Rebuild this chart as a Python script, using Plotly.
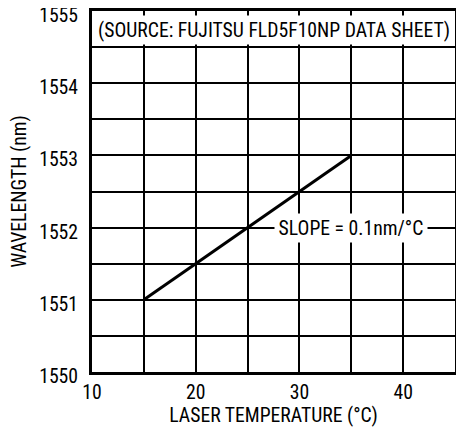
import plotly.graph_objects as go

# laser temperature (°C) vs wavelength (nm)
temp_c = [15, 35]
wavelength_nm = [1551, 1553]

x_ticks = [10, 20, 30, 40]
y_ticks = [1550, 1551, 1552, 1553, 1554, 1555]

FONT = "Liberation Sans Narrow, Roboto Condensed, Liberation Sans, Arial"

# the page body has an 8px margin on top/left, so shrink the figure to fit
BODY = 8

fig = go.Figure()
fig.add_trace(go.Scatter(
    x=temp_c, y=wavelength_nm, mode="lines",
    line=dict(color="black", width=3),
    showlegend=False, hoverinfo="skip",
))

fig.add_annotation(
    x=0.5, y=1, xref="paper", yref="paper", xanchor="center", yanchor="top",
    text="(SOURCE: FUJITSU FLD5F10NP DATA SHEET)", showarrow=False,
    font=dict(family=FONT, size=19.7, color="black"),
    bgcolor="white", width=356, height=26, yshift=-4,
)
fig.add_annotation(
    x=35, y=1552, xanchor="center", yanchor="middle",
    text="SLOPE = 0.1nm/°C", showarrow=False,
    font=dict(family=FONT, size=19.7, color="black"),
    bgcolor="white", width=150, height=26,
)

grid_x = [10, 15, 20, 25, 30, 35, 40, 45]
grid_y = [1550 + 0.5 * i for i in range(11)]

axis_common = dict(
    showgrid=True, gridcolor="black", gridwidth=1.5,
    showline=True, linecolor="black", linewidth=3, mirror=True,
    ticks="", zeroline=False, automargin=False, ticklabeloverflow="allow",
    tickfont=dict(family=FONT, size=19.7, color="black"),
    title_font=dict(family=FONT, size=19.7, color="black"),
)

fig.update_xaxes(
    range=[10, 45], tickvals=grid_x,
    ticktext=[str(v) if v in x_ticks else "" for v in grid_x],
    ticklabelstandoff=0,
    title_text="LASER TEMPERATURE (°C)", title_standoff=6, **axis_common,
)
fig.update_yaxes(
    range=[1550, 1555], tickvals=grid_y,
    ticktext=[str(int(v)) if v in y_ticks else "" for v in grid_y],
    ticklabelstandoff=7, ticklabelshift=4,
    title_text="WAVELENGTH (nm)", title_standoff=9, **axis_common,
)

fig.update_layout(
    width=464 - BODY, height=436 - BODY,
    margin=dict(l=92 - BODY, r=9, t=11 - BODY, b=64),
    paper_bgcolor="white", plot_bgcolor="white",
)

fig.write_html("out.html")
